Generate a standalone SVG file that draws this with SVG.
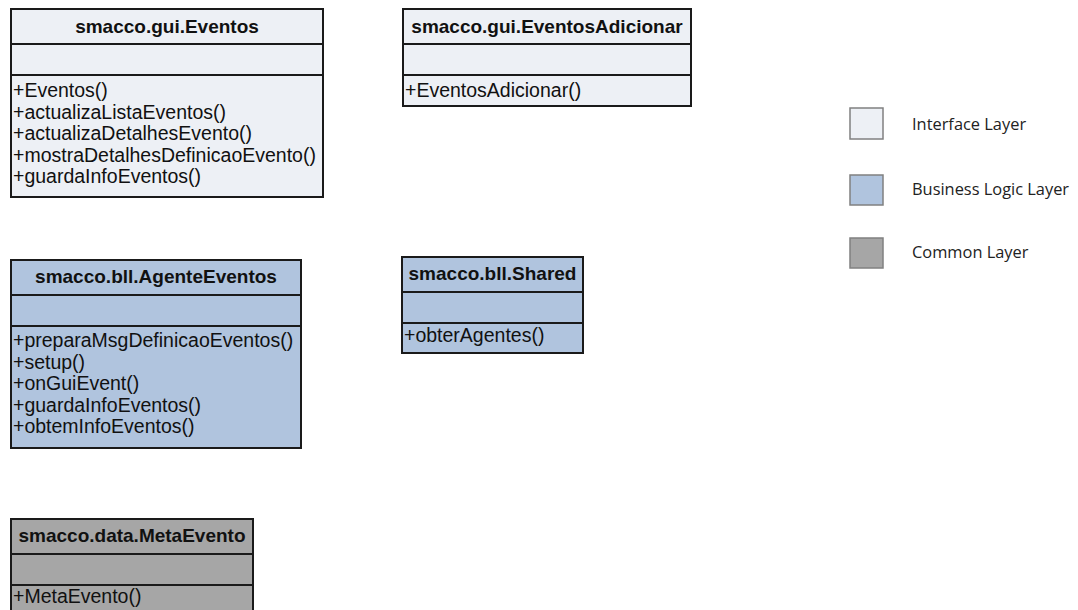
<svg xmlns="http://www.w3.org/2000/svg" width="1078" height="610" viewBox="0 0 1078 610">
<style>
.box{stroke:#1a1a1a;stroke-width:2}
.ui{fill:#edf0f5}
.bll{fill:#b0c4de}
.cm{fill:#a6a6a6}
.div{stroke:#1a1a1a;stroke-width:2}
.t{font-family:"Liberation Sans",Arial,sans-serif;font-size:19px;font-weight:bold;fill:#111;text-anchor:middle}
.m{font-family:"Liberation Sans",Arial,sans-serif;font-size:19.5px;fill:#111}
.lg{stroke:#808080;stroke-width:1.5}
.lt{font-family:"Open Sans","Noto Sans",sans-serif;font-size:16.4px;fill:#222}
</style>
<rect width="1078" height="610" fill="#fff"/>
<g id="gui-eventos">
<rect class="box ui" x="11" y="9" width="312" height="188"/>
<line class="div" x1="11" y1="44" x2="323" y2="44"/>
<line class="div" x1="11" y1="75" x2="323" y2="75"/>
<text class="t" x="167" y="33">smacco.gui.Eventos</text>
<text class="m" x="13" y="97">+Eventos()</text>
<text class="m" x="13" y="118.6">+actualizaListaEventos()</text>
<text class="m" x="13" y="140.2">+actualizaDetalhesEvento()</text>
<text class="m" x="13" y="161.8">+mostraDetalhesDefinicaoEvento()</text>
<text class="m" x="13" y="183.4">+guardaInfoEventos()</text>
</g>
<g id="gui-eventosadicionar">
<rect class="box ui" x="403" y="9" width="288" height="97"/>
<line class="div" x1="403" y1="44" x2="691" y2="44"/>
<line class="div" x1="403" y1="75" x2="691" y2="75"/>
<text class="t" x="547" y="33">smacco.gui.EventosAdicionar</text>
<text class="m" x="405" y="97">+EventosAdicionar()</text>
</g>
<g id="bll-agenteeventos">
<rect class="box bll" x="11" y="260" width="290" height="188"/>
<line class="div" x1="11" y1="295" x2="301" y2="295"/>
<line class="div" x1="11" y1="326" x2="301" y2="326"/>
<text class="t" x="156" y="283">smacco.bll.AgenteEventos</text>
<text class="m" x="13" y="347">+preparaMsgDefinicaoEventos()</text>
<text class="m" x="13" y="368.5">+setup()</text>
<text class="m" x="13" y="390">+onGuiEvent()</text>
<text class="m" x="13" y="411.5">+guardaInfoEventos()</text>
<text class="m" x="13" y="433">+obtemInfoEventos()</text>
</g>
<g id="bll-shared">
<rect class="box bll" x="402" y="257" width="181" height="96"/>
<line class="div" x1="402" y1="292" x2="583" y2="292"/>
<line class="div" x1="402" y1="323" x2="583" y2="323"/>
<text class="t" x="492.5" y="280">smacco.bll.Shared</text>
<text class="m" x="404" y="342">+obterAgentes()</text>
</g>
<g id="data-metaevento">
<rect class="box cm" x="11" y="519" width="242" height="100"/>
<line class="div" x1="11" y1="554" x2="253" y2="554"/>
<line class="div" x1="11" y1="585" x2="253" y2="585"/>
<text class="t" x="132" y="542">smacco.data.MetaEvento</text>
<text class="m" x="13" y="603">+MetaEvento()</text>
</g>
<g id="legend">
<rect class="lg ui" x="850" y="108" width="33" height="31"/>
<text class="lt" x="912" y="130">Interface Layer</text>
<rect class="lg bll" x="850" y="175" width="33" height="30"/>
<text class="lt" x="912" y="195">Business Logic Layer</text>
<rect class="lg cm" x="850" y="238" width="33" height="30"/>
<text class="lt" x="912" y="258">Common Layer</text>
</g>
<g id="connectors"/>
</svg>
